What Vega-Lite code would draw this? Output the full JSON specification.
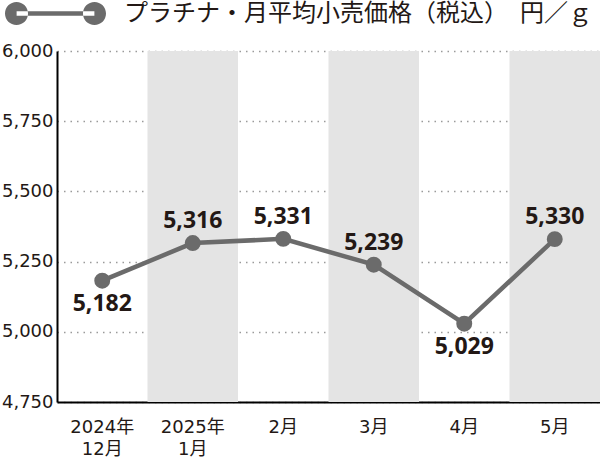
{
  "$schema": "https://vega.github.io/schema/vega-lite/v6.json",
  "autosize": "none",
  "width": 543,
  "height": 351,
  "padding": {"left": 57, "top": 51, "right": 0, "bottom": 58},
  "background": "white",
  "config": {
    "view": {"stroke": null},
    "axisY": {
      "labelFont": "DejaVu Sans", "labelFontSize": 18, "labelColor": "#231815",
      "labelPadding": 4, "ticks": false, "domainColor": "#000", "domainWidth": 2,
      "grid": true, "gridColor": "#9a9a9a", "gridDash": [1.5, 5], "gridWidth": 1.5,
      "zindex": 1
    }
  },
  "data": {
    "values": [
      {"month": "2024年 12月", "price": 5182, "series": "プラチナ・月平均小売価格（税込）　円／ｇ", "shade": 0},
      {"month": "2025年 1月", "price": 5316, "series": "プラチナ・月平均小売価格（税込）　円／ｇ", "shade": 1},
      {"month": "2月", "price": 5331, "series": "プラチナ・月平均小売価格（税込）　円／ｇ", "shade": 0},
      {"month": "3月", "price": 5239, "series": "プラチナ・月平均小売価格（税込）　円／ｇ", "shade": 1},
      {"month": "4月", "price": 5029, "series": "プラチナ・月平均小売価格（税込）　円／ｇ", "shade": 0},
      {"month": "5月", "price": 5330, "series": "プラチナ・月平均小売価格（税込）　円／ｇ", "shade": 1}
    ]
  },
  "encoding": {
    "x": {
      "field": "month", "type": "nominal", "sort": null, "title": null,
      "scale": {"paddingInner": 0, "paddingOuter": 0},
      "axis": {
        "labelAngle": 0, "ticks": false, "domainColor": "#000", "domainWidth": 2,
        "labelExpr": "split(datum.value, ' ')",
        "labelFont": "DejaVu Sans, Noto Sans CJK JP", "labelFontSize": 18,
        "labelColor": "#231815", "labelPadding": 16, "labelLineHeight": 22
      }
    }
  },
  "layer": [
    {
      "mark": {"type": "bar", "color": "#e4e4e4"},
      "encoding": {
        "y": {"datum": 6000, "type": "quantitative"},
        "y2": {"datum": 4750},
        "opacity": {"field": "shade", "type": "quantitative", "scale": {"domain": [0, 1], "range": [0, 1]}, "legend": null}
      }
    },
    {
      "mark": {"type": "line", "strokeWidth": 4.5, "color": "#6b6b6b"},
      "encoding": {
        "y": {
          "field": "price", "type": "quantitative", "title": null,
          "scale": {"domain": [4750, 6000], "nice": false, "zero": false},
          "axis": {"values": [4750, 5000, 5250, 5500, 5750, 6000], "format": ",.0f"}
        }
      }
    },
    {
      "mark": {"type": "circle", "size": 254, "opacity": 1},
      "encoding": {
        "y": {"field": "price", "type": "quantitative"},
        "color": {
          "field": "series", "type": "nominal",
          "scale": {"range": ["#6b6b6b"]},
          "legend": {
            "title": null, "orient": "none", "legendX": -52, "legendY": -88,
            "symbolType": "M-0.77,-0.047 H0.77 V0.047 H-0.77 Z M-1,0 A0.228,0.228 0 1,0 -0.544,0 A0.228,0.228 0 1,0 -1,0 Z M0.544,0 A0.228,0.228 0 1,0 1,0 A0.228,0.228 0 1,0 0.544,0 Z",
            "symbolSize": 10201, "symbolFillColor": "#6b6b6b", "symbolOpacity": 1, "symbolStrokeWidth": 0,
            "labelFont": "Noto Sans CJK JP", "labelFontSize": 24, "labelColor": "#231815",
            "labelOffset": 18, "labelLimit": 600
          }
        }
      }
    },
    {
      "transform": [{"filter": {"field": "month", "oneOf": ["2025年 1月", "2月", "3月", "5月"]}}],
      "mark": {"type": "text", "dy": -22, "font": "Open Sans", "fontWeight": "bold", "fontSize": 23, "color": "#231815"},
      "encoding": {"y": {"field": "price", "type": "quantitative"}, "text": {"field": "price", "type": "quantitative", "format": ","}}
    },
    {
      "transform": [{"filter": {"field": "month", "oneOf": ["2024年 12月", "4月"]}}],
      "mark": {"type": "text", "dy": 23, "font": "Open Sans", "fontWeight": "bold", "fontSize": 23, "color": "#231815"},
      "encoding": {"y": {"field": "price", "type": "quantitative"}, "text": {"field": "price", "type": "quantitative", "format": ","}}
    }
  ]
}
